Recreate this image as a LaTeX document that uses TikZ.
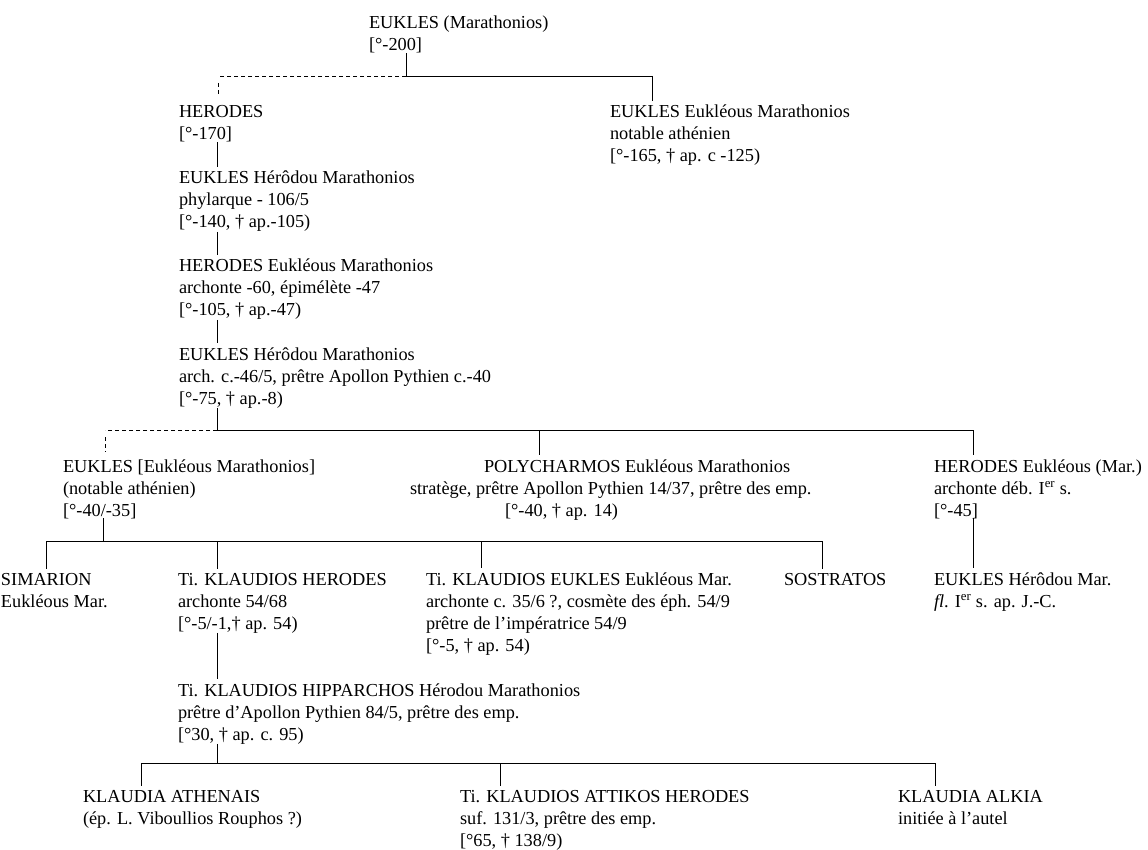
\documentclass[tikz,border=0pt]{standalone}
\usepackage{fontspec}
\setmainfont{Liberation Serif}
\begin{document}
\begin{tikzpicture}[x=1pt,y=-1pt,
  person/.style={anchor=base west,inner sep=0pt,outer sep=0pt,align=left,
    font={\fontsize{18.3}{22}\selectfont}},
  link/.style={line width=0.9pt},
  drop/.style={line width=0.9pt,shorten >=4pt},
  dashline/.style={line width=0.9pt,dash pattern=on 4pt off 3pt}]
  \useasboundingbox (0,0) rectangle (1148,850);

  % --- Joints of the bars ---
  \coordinate (jA) at (406,76);   % under EUKLES (Marathonios)
  \coordinate (dA) at (218,76);   % dashed end
  \coordinate (rA) at (652,76);
  \coordinate (jB) at (217,430);  % under the Herodes line
  \coordinate (dB) at (105,430);
  \coordinate (pB) at (539,430);
  \coordinate (rB) at (973,430);
  \coordinate (jC) at (103,541);  % children of EUKLES [Eukleous]
  \coordinate (sC) at (46,541);
  \coordinate (kC) at (481,541);
  \coordinate (eC) at (822,541);
  \coordinate (jD) at (217,763);  % children of HIPPARCHOS
  \coordinate (sD) at (141,763);
  \coordinate (mD) at (500,763);
  \coordinate (eD) at (935,763);

  % nodes sit on the baseline of their last line (22pt per line)

  % --- Generation 0 and 1 ---
  \node[person] (eukA) at (369,51) {EUKLES (Marathonios)\\{[}°-200]};
  \node[person] (herA) at (179,140) {HERODES\\{[}°-170]};
  \node[person] (eukR) at (610,162) {EUKLES Eukléous Marathonios\\notable athénien\\{[}°-165, † ap. c -125)};

  % --- Main line ---
  \node[person] (eukB) at (179,228) {EUKLES Hérôdou Marathonios\\phylarque - 106/5\\{[}°-140, † ap.-105)};
  \node[person] (herC) at (179,316) {HERODES Eukléous Marathonios\\archonte -60, épimélète -47\\{[}°-105, † ap.-47)};
  \node[person] (eukD) at (179,404) {EUKLES Hérôdou Marathonios\\arch. c.-46/5, prêtre Apollon Pythien c.-40\\{[}°-75, † ap.-8)};

  % --- Sons of EUKLES Herodou ---
  \node[person] (eukE) at (63,516) {EUKLES {[}Eukléous Marathonios]\\(notable athénien)\\{[}°-40/-35]};
  \node[person] (poly) at (410,516) {\hspace*{74pt}POLYCHARMOS Eukléous Marathonios\\stratège, prêtre Apollon Pythien 14/37, prêtre des emp.\\\hspace*{95pt}{[}°-40, † ap. 14)};
  \node[person] (herF) at (934,516) {HERODES Eukléous (Mar.)\\archonte déb. I\textsuperscript{er} s.\\{[}°-45]};

  % --- Next generation ---
  \node[person] (sima) at (1,607) {SIMARION\\Eukléous Mar.};
  \node[person] (klHer) at (178,629) {Ti. KLAUDIOS HERODES\\archonte 54/68\\{[}°-5/-1,† ap. 54)};
  \node[person] (klEuk) at (426,651) {Ti. KLAUDIOS EUKLES Eukléous Mar.\\archonte c. 35/6 ?, cosmète des éph. 54/9\\prêtre de l’impératrice 54/9\\{[}°-5, † ap. 54)};
  \node[person] (sost) at (784,585) {SOSTRATOS};
  \node[person] (eukG) at (934,607) {EUKLES Hérôdou Mar.\\\textit{fl}. I\textsuperscript{er} s. ap. J.-C.};
  \node[person] (klHip) at (178,740) {Ti. KLAUDIOS HIPPARCHOS Hérodou Marathonios\\prêtre d’Apollon Pythien 84/5, prêtre des emp.\\{[}°30, † ap. c. 95)};

  % --- Children of HIPPARCHOS ---
  \node[person] (klAth) at (83,824) {KLAUDIA ATHENAIS\\(ép. L. Viboullios Rouphos ?)};
  \node[person] (klAtt) at (460,846) {Ti. KLAUDIOS ATTIKOS HERODES\\suf. 131/3, prêtre des emp.\\{[}°65, † 138/9)};
  \node[person] (klAlk) at (898,824) {KLAUDIA ALKIA\\initiée à l’autel};

  % --- Bar under EUKLES (Marathonios) ---
  \draw[link] (eukA.south -| jA) -- (jA) -- (rA);
  \draw[drop] (rA) -- (eukR.north -| rA);
  \draw[dashline] (jA) -- (dA);
  \draw[dashline,shorten <=7pt,shorten >=11pt] (dA) -- (herA.north -| dA);

  % --- Main line down ---
  \draw[drop] (herA.south -| jB) -- (eukB.north -| jB);
  \draw[drop] (eukB.south -| jB) -- (herC.north -| jB);
  \draw[drop] (herC.south -| jB) -- (eukD.north -| jB);
  \draw[link] (eukD.south -| jB) -- (jB);

  % --- Bar under EUKLES Herodou ---
  \draw[link] (jB) -- (rB);
  \draw[dashline] (jB) -- (dB);
  \draw[dashline,shorten <=7pt,shorten >=8pt] (dB) -- (eukE.north -| dB);
  \draw[drop] (pB) -- (poly.north -| pB);
  \draw[drop] (rB) -- (herF.north -| rB);
  \draw[drop] (herF.south -| rB) -- (eukG.north -| rB);

  % --- Bar under EUKLES [Eukleous] ---
  \draw[link] (eukE.south -| jC) -- (jC);
  \draw[link] (sC) -- (eC);
  \draw[drop] (sC) -- (sima.north -| sC);
  \draw[drop] (jB |- sC) -- (klHer.north -| jB);
  \draw[drop] (kC) -- (klEuk.north -| kC);
  \draw[drop] (eC) -- (sost.north -| eC);
  \draw[drop] (klHer.south -| jB) -- (klHip.north -| jB);

  % --- Bar under HIPPARCHOS ---
  \draw[link] (klHip.south -| jD) -- (jD);
  \draw[link] (sD) -- (eD);
  \draw[drop] (sD) -- (klAth.north -| sD);
  \draw[drop] (mD) -- (klAtt.north -| mD);
  \draw[drop] (eD) -- (klAlk.north -| eD);
\end{tikzpicture}
\end{document}
